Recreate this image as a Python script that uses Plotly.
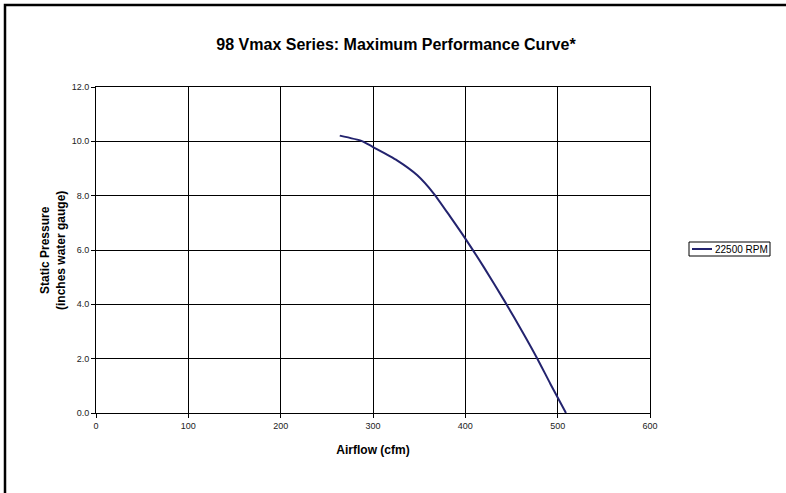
import plotly.graph_objects as go

airflow_cfm = [264, 288, 300, 326, 348, 366, 384, 400, 420, 443, 463, 478, 492, 509]
static_pressure = [10.21, 10.01, 9.79, 9.30, 8.75, 8.07, 7.21, 6.42, 5.37, 4.09, 2.92, 2.0, 1.08, 0.0]
series_name = "22500 RPM"
x_ticks = [0, 100, 200, 300, 400, 500, 600]
y_ticks = [0, 2, 4, 6, 8, 10, 12]

W, H = 786, 493
L, R, T, B = 96, 136, 87, 80
pw = W - L - R
ph = H - T - B

def px_x(p):
    return (p - L) / pw

def px_y(p):
    return (H - B - p) / ph

line_color = "#23236e"
fig = go.Figure()
fig.add_trace(go.Scatter(
    x=airflow_cfm, y=static_pressure, mode="lines", name=series_name,
    line=dict(color=line_color, width=2, shape="spline", smoothing=0.6),
    showlegend=False,
))

font = "Liberation Sans, Arial, sans-serif"
axis_common = dict(
    showline=True, linecolor="black", linewidth=1, mirror=True,
    showgrid=True, gridcolor="black", gridwidth=1,
    ticks="outside", ticklen=4, tickcolor="black",
    zeroline=False, tickfont=dict(family=font, size=9, color="#222"),
)
fig.update_xaxes(range=[0, 600], tickvals=x_ticks,
                 title=dict(text="<b>Airflow (cfm)</b>", font=dict(family=font, size=12, color="black"), standoff=15),
                 **axis_common)
fig.update_yaxes(range=[0, 12], tickvals=y_ticks, tickformat=".1f", **axis_common)

# legend box drawn from shapes + annotation
lx0, lx1, ly0, ly1 = 689, 770, 242, 256
shapes = [
    dict(type="rect", xref="paper", yref="paper",
         x0=px_x(5), x1=px_x(820), y0=px_y(520), y1=px_y(5),
         line=dict(color="black", width=2.5), layer="above"),
    dict(type="rect", xref="paper", yref="paper",
         x0=px_x(lx0), x1=px_x(lx1), y0=px_y(ly1), y1=px_y(ly0),
         line=dict(color="black", width=1), fillcolor="white", layer="above"),
    dict(type="line", xref="paper", yref="paper",
         x0=px_x(692), x1=px_x(712), y0=px_y(249), y1=px_y(249),
         line=dict(color=line_color, width=2), layer="above"),
]
annotations = [
    dict(text=series_name, xref="paper", yref="paper", x=px_x(713), y=px_y(249),
         xanchor="left", yanchor="middle", showarrow=False,
         font=dict(family=font, size=10, color="black")),
    dict(text="<b>Static Pressure<br>(inches water gauge)</b>", xref="paper", yref="paper",
         x=px_x(53), y=0.5, xanchor="center", yanchor="middle", showarrow=False, textangle=-90,
         font=dict(family=font, size=12, color="black")),
]

fig.update_layout(
    width=W, height=H,
    margin=dict(l=L, r=R, t=T, b=B, autoexpand=False),
    paper_bgcolor="white", plot_bgcolor="white",
    title=dict(text="<b>98 Vmax Series: Maximum Performance Curve*</b>",
               font=dict(family=font, size=16, color="black"),
               x=396 / W, xanchor="center", y=1 - 44 / H, yanchor="middle"),
    shapes=shapes, annotations=annotations,
)

fig.write_html("out.html", config={"displayModeBar": False},
               post_script="document.body.style.margin='0';document.body.style.overflow='hidden';")
